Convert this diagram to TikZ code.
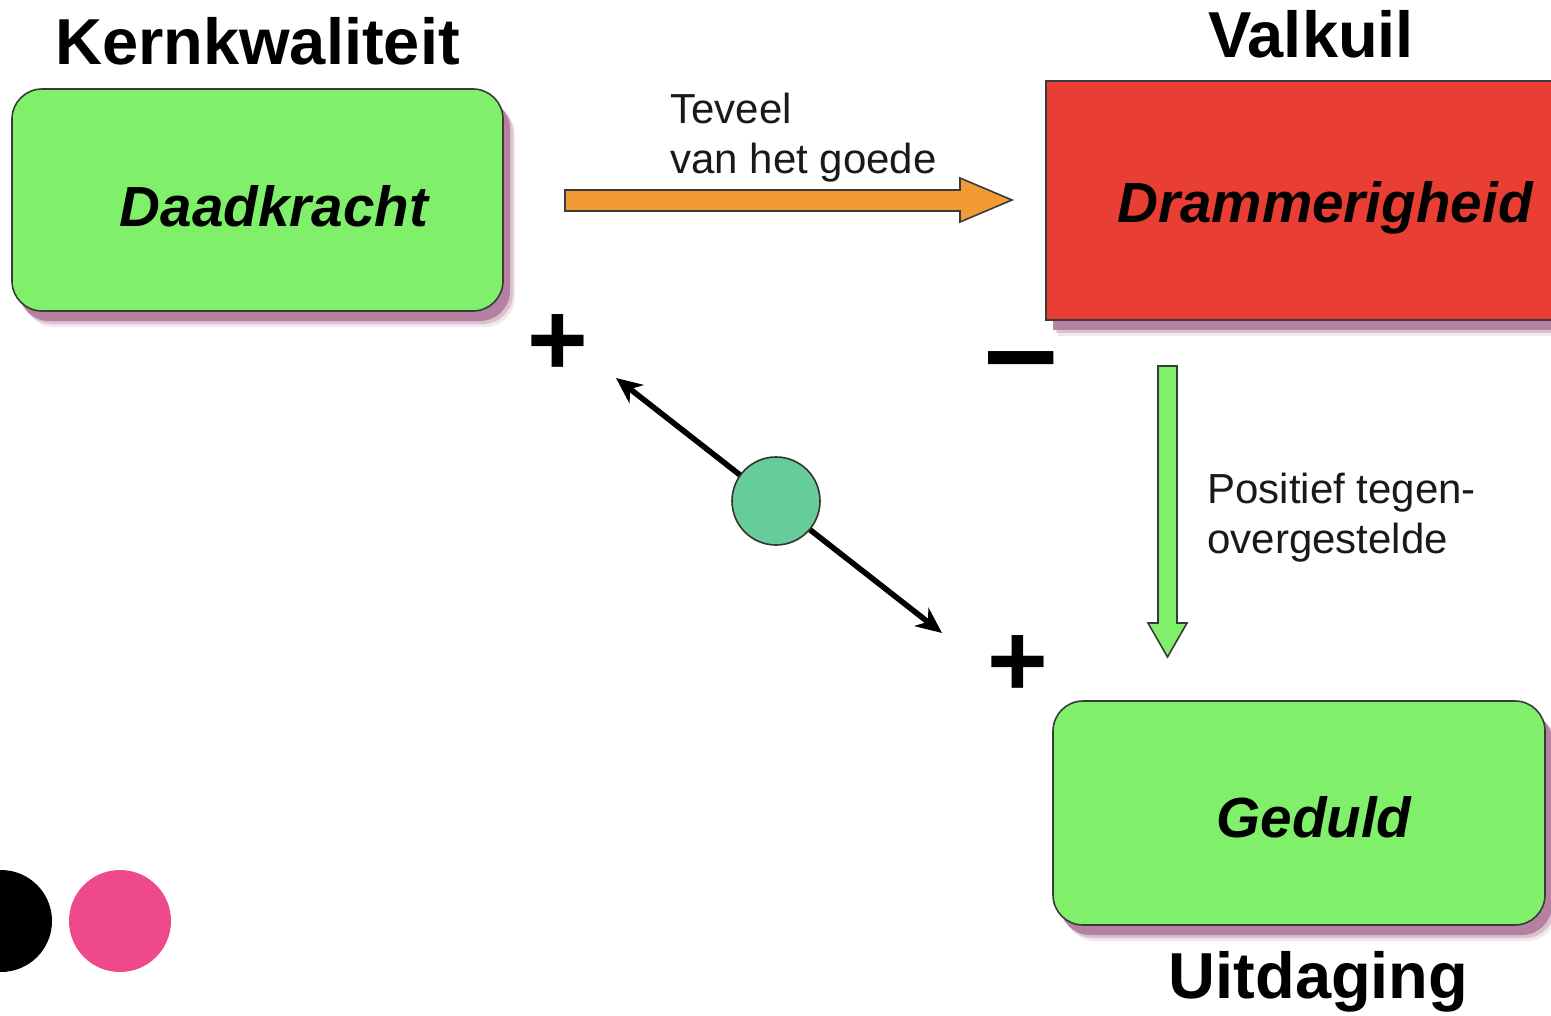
\documentclass[tikz,border=0pt]{standalone}
\usepackage{fontspec}
\setmainfont{Liberation Sans}
\usetikzlibrary{arrows.meta,shadows}
\definecolor{goodgreen}{HTML}{80F06B}
\definecolor{badred}{HTML}{E83E33}
\definecolor{orangec}{HTML}{F29A35}
\definecolor{mintc}{HTML}{66CC9A}
\definecolor{shadowc}{HTML}{B07A9C}
\definecolor{pinkc}{HTML}{EE4A8B}
\definecolor{edgec}{HTML}{3A3A3A}
\tikzset{
  boxshadow/.style={
    drop shadow={shadow xshift=6pt, shadow yshift=-8pt, fill=shadowc, opacity=.18},
    drop shadow={shadow xshift=5pt, shadow yshift=-6.5pt, fill=shadowc, opacity=.35},
    drop shadow={shadow xshift=3.5pt, shadow yshift=-5pt, fill=shadowc, opacity=.9}},
  goodbox/.style={draw=edgec, line width=0.8pt, fill=goodgreen, rounded corners=15pt, boxshadow, inner sep=0pt},
  badbox/.style={draw=edgec, line width=0.8pt, fill=badred, boxshadow, inner sep=0pt},
  titletext/.style={font=\fontsize{32.5}{39}\selectfont\bfseries, inner sep=0pt},
  boxtext/.style={font=\fontsize{28.3}{34}\selectfont\bfseries\itshape, inner sep=0pt},
  labeltext/.style={font=\fontsize{21}{25}\selectfont, inner sep=0pt, text=black!90},
  signtext/.style={font=\fontsize{52}{60}\selectfont\bfseries, inner sep=0pt},
  blockarrow/.style={draw=edgec, line width=0.8pt, line join=miter},
  dblarrow/.style={line width=2.8pt, {Stealth[length=13pt,width=11.5pt,inset=4pt]}-{Stealth[length=13pt,width=11.5pt,inset=4pt]}},
  dotc/.style={circle, minimum size=51pt, inner sep=0pt, draw=none}
}
\begin{document}
\begin{tikzpicture}[x=0.5pt,y=-0.5pt]
\useasboundingbox (0,0) rectangle (1551,1016);
% boxes
\node[goodbox, minimum width=245.5pt, minimum height=111pt] (dk) at (257.5,200) {};
\node[badbox, minimum width=257pt, minimum height=119.5pt] (dr) at (1303,200.5) {};
\node[goodbox, minimum width=246pt, minimum height=112pt] (ge) at (1299,813) {};
% box texts
\node[boxtext, anchor=base] (dkt) at (274,227) {Daadkracht};
\node[boxtext, anchor=base] (drt) at (1325,223) {Drammerigheid};
\node[boxtext, anchor=base] (get) at (1314,837) {Geduld};
% titles
\node[titletext, anchor=base] (t1) at (257.5,65) {Kernkwaliteit};
\node[titletext, anchor=base] (t2) at (1311,58) {Valkuil};
\node[titletext, anchor=base] (t3) at (1318.5,998) {Uitdaging};
% labels
\node[labeltext, anchor=base west] (l1) at (670,124) {Teveel};
\node[labeltext, anchor=base west] (l2) at (670,174) {van het goede};
\node[labeltext, anchor=base west] (l3) at (1207,503) {Positief tegen-};
\node[labeltext, anchor=base west] (l4) at (1207,553) {overgestelde};
% block arrows
\draw[blockarrow, fill=orangec] (565,190) -- (960,190) -- (960,178) -- (1012,200) -- (960,222) -- (960,211) -- (565,211) -- cycle;
\draw[blockarrow, fill=goodgreen] (1158,366) -- (1177,366) -- (1177,623) -- (1187,623) -- (1167.5,657) -- (1148,623) -- (1158,623) -- cycle;
% signs
\node[signtext, anchor=base] (p1) at (558,375) {+};
\node[signtext, anchor=base] (p2) at (1018,696) {+};
\node[font=\fontsize{66}{70}\selectfont\bfseries, inner sep=0pt, anchor=base] (m1) at (1021,393) {–};
% double arrow with circle
\coordinate (a) at (616,378);
\coordinate (b) at (942,633);
\draw[dblarrow] (a) -- (b);
\node[circle, draw=black!80, line width=0.8pt, fill=mintc, minimum size=44pt, inner sep=0pt] (c) at (776,501) {};
% dots
\node[dotc, fill=black] (d1) at (1,921) {};
\node[dotc, fill=pinkc] (d2) at (120,921) {};
\end{tikzpicture}
\end{document}
